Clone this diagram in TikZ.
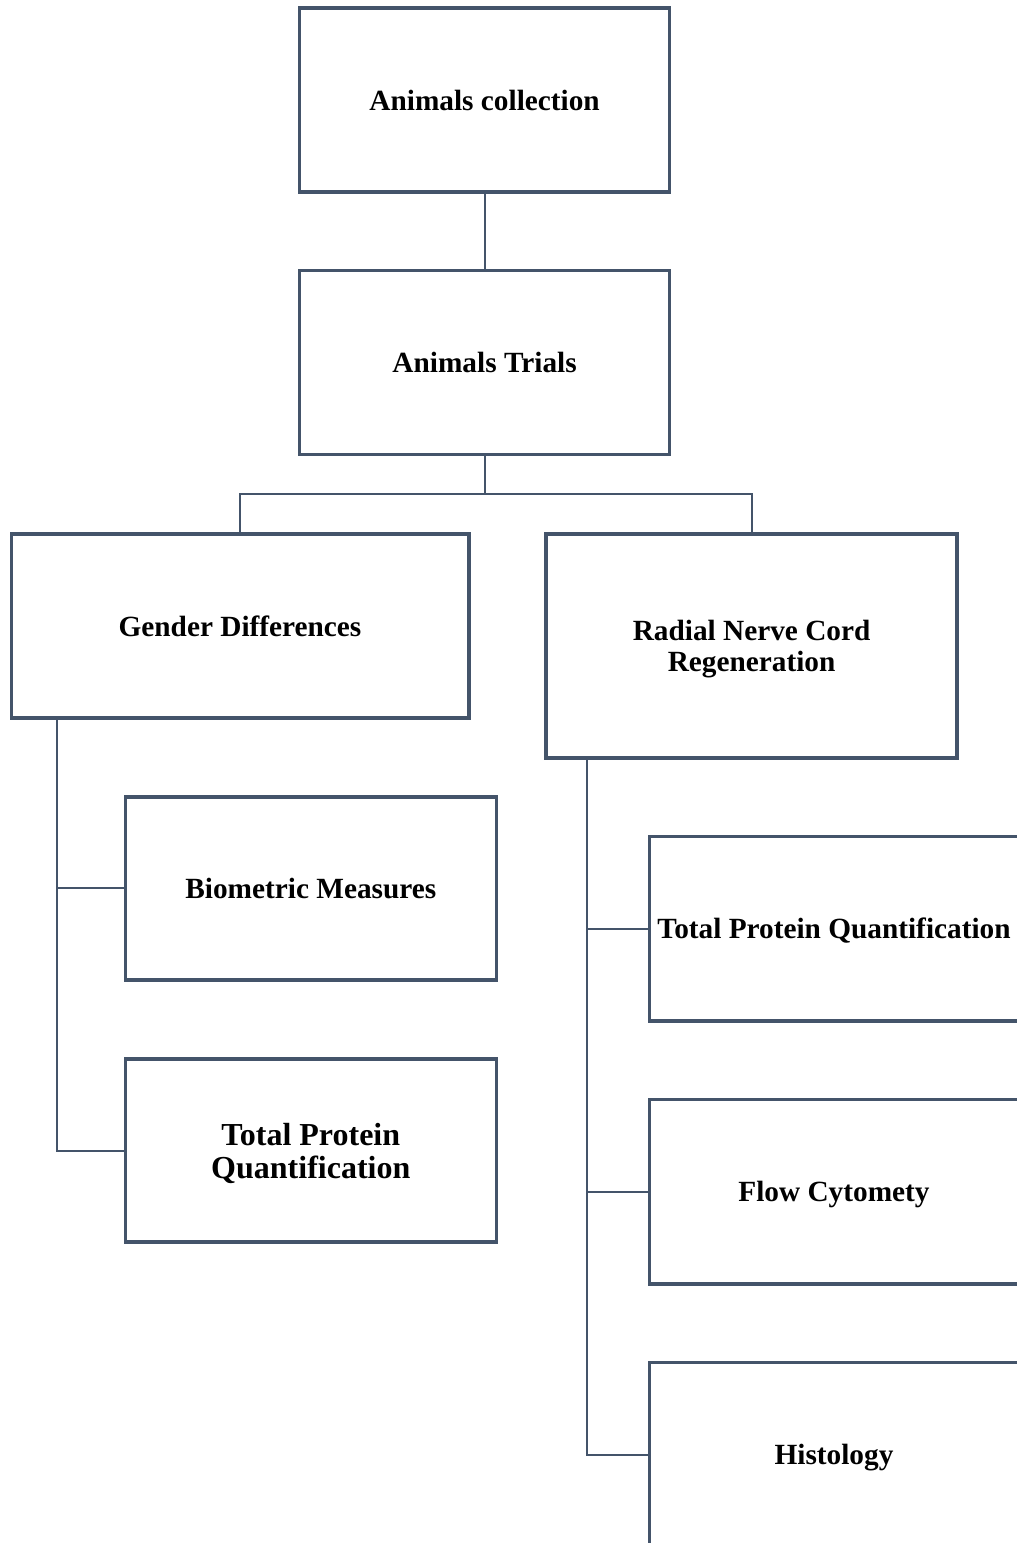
\documentclass[tikz,border=0pt]{standalone}
\usepackage{fontspec}
\setmainfont{Liberation Serif}
\definecolor{boxline}{HTML}{44546A}
\tikzset{
  box/.style={draw=boxline, line width=3.6pt, rectangle, inner sep=0pt, outer sep=0pt,
    align=center, text=black, text depth=0pt, font=\fontsize{29.3}{30.5}\selectfont\bfseries},
  conn/.style={draw=boxline, line width=2pt}
}
\begin{document}
\begin{tikzpicture}[x=1pt,y=-1pt]
\useasboundingbox (0,0) rectangle (1017,1543);
\clip (0,0) rectangle (1017,1543);
\fill[white] (0,0) rectangle (1017,1543);
\coordinate (j) at (484.6,494.3);
\node[box, minimum width=370pt, minimum height=184pt] (ac) at (484.6,100) {Animals collection};
\node[box, minimum width=370pt, minimum height=184pt] (at) at (484.6,362.5) {Animals Trials};
\node[box, minimum width=457.4pt, minimum height=184.3pt] (gd) at (240,626) {Gender Differences};
\node[box, minimum width=410.7pt, minimum height=223.7pt] (rn) at (751.6,646) {Radial Nerve Cord\\Regeneration};
\node[box, minimum width=371pt, minimum height=183pt] (bm) at (310.8,888.3) {Biometric Measures};
\node[box, minimum width=371pt, minimum height=183pt, font=\fontsize{32}{33}\selectfont\bfseries] (tl) at (310.8,1150.7) {Total Protein\\Quantification};
\node[box, minimum width=369.4pt, minimum height=184.4pt] (tr) at (834,928.5) {Total Protein Quantification};
\node[box, minimum width=369.4pt, minimum height=184.4pt] (fc) at (834,1191.5) {Flow Cytomety};
\node[box, minimum width=369.4pt, minimum height=184.4pt] (hi) at (834,1454.5) {Histology};
\draw[conn] (ac.south) -- (at.north);
\draw[conn] (at.south) -- (j) -| (gd.north);
\draw[conn] (j) -| (rn.north);
\draw[conn] ([xshift=45.7pt]gd.south west) |- (bm.west);
\draw[conn] ([xshift=45.7pt]gd.south west) |- (tl.west);
\draw[conn] ([xshift=41pt]rn.south west) |- (tr.west);
\draw[conn] ([xshift=41pt]rn.south west) |- (fc.west);
\draw[conn] ([xshift=41pt]rn.south west) |- (hi.west);
\end{tikzpicture}
\end{document}
